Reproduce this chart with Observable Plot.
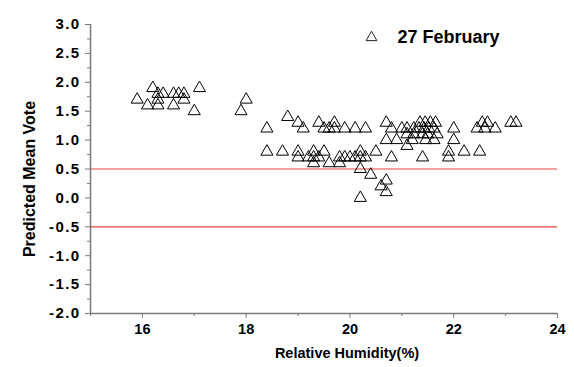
<!DOCTYPE html>
<html>
<head>
<meta charset="utf-8">
<script src="https://cdn.jsdelivr.net/npm/d3@7"></script>
<script src="https://cdn.jsdelivr.net/npm/@observablehq/plot@0.6"></script>
<style>
  body { margin: 0; background: #fff; }
  svg [aria-label="y-axis tick label"] text { letter-spacing: 1.4px; }
</style>
</head>
<body>
<div id="chart"></div>
<script>
// Relative humidity (%) and predicted mean vote, 27 February survey
const humidity = [
  15.9, 16.1, 16.2, 16.3, 16.3, 16.3, 16.4, 16.6, 16.6, 16.7, 16.8, 16.8, 17.0, 17.1, 17.9, 18.0,
  18.4, 18.8, 19.0, 19.1, 19.4, 19.5, 19.6, 19.7, 19.7, 19.9, 20.1, 20.3,
  18.4, 18.7, 19.0, 19.0, 19.2, 19.3, 19.3, 19.3, 19.4, 19.5, 19.6, 19.8, 19.8, 19.9, 20.0, 20.1, 20.2, 20.2, 20.3, 20.5,
  20.2, 20.4, 20.7, 20.6, 20.7, 20.2,
  20.7, 20.8, 21.0, 21.1, 20.7, 20.9, 21.1, 21.2, 21.1, 20.8, 21.4,
  21.35, 21.45, 21.55, 21.65, 21.23, 21.33, 21.43, 21.52, 21.62, 21.23, 21.4, 21.5, 21.68, 21.46, 21.62,
  22.0, 22.0, 21.9, 21.9, 22.2, 22.5,
  22.45, 22.55, 22.6, 22.65, 22.8, 23.1, 23.2
];
const pmv = [
  1.7, 1.6, 1.9, 1.6, 1.7, 1.8, 1.8, 1.6, 1.8, 1.8, 1.8, 1.7, 1.5, 1.9, 1.5, 1.7,
  1.2, 1.4, 1.3, 1.2, 1.3, 1.2, 1.2, 1.3, 1.2, 1.2, 1.2, 1.2,
  0.8, 0.8, 0.8, 0.7, 0.7, 0.8, 0.7, 0.6, 0.7, 0.8, 0.6, 0.6, 0.7, 0.7, 0.7, 0.7, 0.8, 0.7, 0.7, 0.8,
  0.5, 0.4, 0.3, 0.2, 0.1, 0.0,
  1.3, 1.2, 1.2, 1.2, 1.0, 1.0, 1.1, 1.0, 0.9, 0.7, 0.7,
  1.3, 1.3, 1.3, 1.3, 1.2, 1.2, 1.2, 1.2, 1.2, 1.1, 1.1, 1.1, 1.1, 1.0, 1.0,
  1.2, 1.0, 0.8, 0.7, 0.8, 0.8,
  1.2, 1.3, 1.2, 1.3, 1.2, 1.3, 1.3
];

// Comfort band limits
const comfortLimits = [0.5, -0.5];

// Axis ticks
const xTicks = [16, 18, 20, 22, 24];
const xMinorTicks = [15, 17, 19, 21, 23];
const yTicks = [-2, -1.5, -1, -0.5, 0, 0.5, 1, 1.5, 2, 2.5, 3];
const yMinorTicks = [-1.75, -1.25, -0.75, -0.25, 0.25, 0.75, 1.25, 1.75, 2.25, 2.75];

const seriesName = "27 February";
const xTitle = "Relative Humidity(%)";
const yTitle = "Predicted Mean Vote";

const points = humidity.map((h, i) => ({humidity: h, pmv: pmv[i]}));
const axisGrey = "#7a7a7a";

const chart = Plot.plot({
  width: 574,
  height: 367,
  marginTop: 24,
  marginBottom: 54,
  marginLeft: 90,
  marginRight: 17,
  style: {fontFamily: "'Liberation Sans', Arial, sans-serif", fontWeight: "bold", background: "#fff", color: "#000"},
  x: {domain: [15, 24]},
  y: {domain: [-2, 3]},
  marks: [
    Plot.ruleY(comfortLimits, {stroke: "#e8413f", strokeWidth: 1.2}),
    Plot.ruleX([15], {stroke: axisGrey, strokeWidth: 1.5}),
    Plot.ruleY([-2], {stroke: axisGrey, strokeWidth: 1.5}),
    Plot.axisX(xTicks, {tickSize: 5, tickPadding: 5, fontSize: 14.5, fontWeight: "bold", stroke: axisGrey, fill: "#000", label: null}),
    Plot.axisX(xMinorTicks, {tickSize: 3, tickFormat: () => "", stroke: axisGrey, label: null}),
    Plot.axisY(yTicks, {tickSize: 5, tickPadding: 5, fontSize: 15, fontWeight: "bold", tickFormat: d => d.toFixed(1), stroke: axisGrey, fill: "#000", label: null}),
    Plot.axisY(yMinorTicks, {tickSize: 3, tickFormat: () => "", stroke: axisGrey, label: null}),
    Plot.dot(points, {x: "humidity", y: "pmv", symbol: "triangle", r: 4.5, stroke: "#000", strokeWidth: 1, fill: "none"}),
    // legend entry
    Plot.dot([seriesName], {frameAnchor: "top-left", dx: 281, dy: 13, symbol: "triangle", r: 4, stroke: "#222", strokeWidth: 1, fill: "none"}),
    Plot.text([seriesName], {frameAnchor: "top-left", dx: 307, dy: 13, textAnchor: "start", lineAnchor: "middle", fontSize: 18, fontWeight: "bold", fill: "#000"}),
    // axis titles
    Plot.text([xTitle], {frameAnchor: "bottom", dx: 23, dy: 40, textAnchor: "middle", lineAnchor: "middle", fontSize: 14.5, fontWeight: "bold", fill: "#000"}),
    Plot.text([yTitle], {frameAnchor: "left", dx: -61, dy: 10, rotate: -90, textAnchor: "middle", lineAnchor: "middle", fontSize: 16, fontWeight: "bold", fill: "#000"})
  ]
});

document.getElementById("chart").appendChild(chart);
</script>
</body>
</html>
